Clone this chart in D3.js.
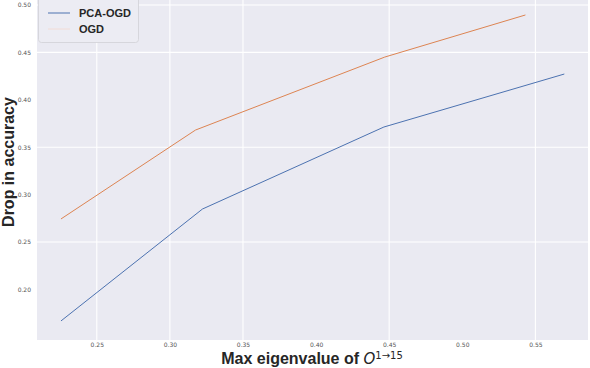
<!DOCTYPE html>
<html><head><meta charset="utf-8">
<script src="https://cdn.jsdelivr.net/npm/d3@7"></script>
<style>body{margin:0;background:#fff}svg{display:block}</style>
</head><body>
<script>
const seriesNames = ["PCA-OGD", "OGD"];
const pcaX = [0.2255, 0.3223, 0.4464, 0.5698];
const pcaY = [0.1667, 0.2848, 0.3713, 0.4272];
const ogdX = [0.2255, 0.3175, 0.4470, 0.5432];
const ogdY = [0.2743, 0.3681, 0.4451, 0.4895];
const xTicks = [0.25, 0.30, 0.35, 0.40, 0.45, 0.50, 0.55];
const yTicks = [0.20, 0.25, 0.30, 0.35, 0.40, 0.45, 0.50];
const xGrid = [0.25, 0.30, 0.35, 0.45, 0.55];
const yGrid = [0.25, 0.35, 0.45, 0.50];
const colors = ["#4c72b0", "#dd8452"];

const W = 590, H = 368;
const m = {l: 37, r: 2, t: 0, b: 28};
const svg = d3.select("body").append("svg").attr("width", W).attr("height", H);
const x = d3.scaleLinear().domain([0.2091, 0.586]).range([m.l, W - m.r]);
const y = d3.scaleLinear().domain([0.1466, 0.5053]).range([H - m.b, m.t]);

svg.append("rect").attr("x", m.l).attr("y", m.t).attr("width", W - m.r - m.l).attr("height", H - m.b - m.t).attr("fill", "#eaeaf2");

svg.append("g").selectAll("line").data(xGrid).join("line")
  .attr("x1", d => x(d)).attr("x2", d => x(d)).attr("y1", m.t).attr("y2", H - m.b)
  .attr("stroke", "#fff").attr("stroke-width", 1.1);
svg.append("g").selectAll("line").data(yGrid).join("line")
  .attr("y1", d => y(d)).attr("y2", d => y(d)).attr("x1", m.l).attr("x2", W - m.r)
  .attr("stroke", "#fff").attr("stroke-width", 1.1);

const xAxis = svg.append("g").attr("transform", `translate(0,${H - m.b})`)
  .call(d3.axisBottom(x).tickValues(xTicks).tickFormat(d3.format(".2f")).tickSize(0).tickPadding(3));
const yAxis = svg.append("g").attr("transform", `translate(${m.l},0)`)
  .call(d3.axisLeft(y).tickValues(yTicks).tickFormat(d3.format(".2f")).tickSize(0).tickPadding(6));
[xAxis, yAxis].forEach(a => {
  a.select(".domain").remove();
  a.selectAll("text").attr("font-family", "DejaVu Sans, sans-serif").attr("font-size", 6).attr("fill", "#555");
});

const line = d3.line().x(d => x(d[0])).y(d => y(d[1]));
const data = [d3.zip(pcaX, pcaY), d3.zip(ogdX, ogdY)];
svg.append("g").selectAll("path").data(data).join("path")
  .attr("d", line).attr("fill", "none")
  .attr("stroke", (d, i) => colors[i]).attr("stroke-width", 1);

// axis labels
const xl = svg.append("text").attr("x", 312).attr("y", 364).attr("text-anchor", "middle")
  .attr("font-family", "Liberation Sans, Arial, sans-serif").attr("font-size", 16).attr("fill", "#262626");
xl.append("tspan").attr("font-weight", "bold").text("Max eigenvalue of ");
xl.append("tspan").attr("font-style", "italic").attr("font-family", "DejaVu Sans, sans-serif").attr("font-size", 15).text("O");
xl.append("tspan").attr("font-family", "DejaVu Sans, sans-serif").attr("font-size", 10).attr("dy", -5).text("1\u219215");
svg.append("text").attr("transform", "translate(14,162) rotate(-90)").attr("text-anchor", "middle")
  .attr("font-family", "Liberation Sans, Arial, sans-serif").attr("font-weight", "bold").attr("font-size", 16).attr("fill", "#262626")
  .text("Drop in accuracy");

// legend
const lg = svg.append("g");
lg.append("rect").attr("x", 38.5).attr("y", -4).attr("width", 100).attr("height", 46.5).attr("rx", 3)
  .attr("fill", "#ececf3").attr("stroke", "#d0d0d6").attr("stroke-width", 0.8);
const legColors = [colors[0], "#f2dcd6"];
seriesNames.forEach((n, i) => {
  const yy = 13 + i * 16;
  lg.append("line").attr("x1", 48).attr("x2", 70).attr("y1", yy).attr("y2", yy).attr("stroke", legColors[i]).attr("stroke-width", 1);
  lg.append("text").attr("x", 79).attr("y", yy + 4).attr("font-family", "Liberation Sans, Arial, sans-serif")
    .attr("font-weight", "bold").attr("font-size", 11).attr("fill", "#262626").text(n);
});
</script>
</body></html>
